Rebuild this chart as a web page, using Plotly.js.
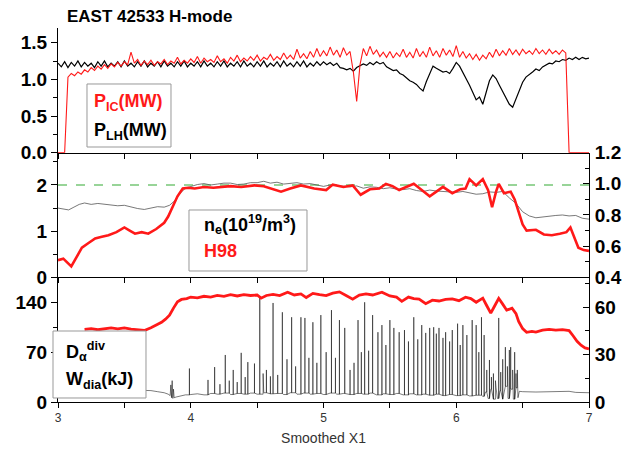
<!DOCTYPE html>
<html><head><meta charset="utf-8">
<script src="https://cdn.plot.ly/plotly-3.0.1.min.js"></script>
<style>html,body{margin:0;padding:0;background:#fff}#chart{width:623px;height:459px}</style>
</head><body><div id="chart"></div>
<script>
// ---------- Top panel: heating power (MW) ----------
const powerX = [
3,3.025,3.05,3.075,3.1,3.125,3.15,3.175,3.2,3.225,3.25,3.275,3.3,3.325,3.35,3.375,3.4,3.425,3.45,3.475,
3.5,3.525,3.55,3.575,3.6,3.625,3.65,3.675,3.7,3.725,3.75,3.775,3.8,3.825,3.85,3.875,3.9,3.925,3.95,3.975,
4,4.025,4.05,4.075,4.1,4.125,4.15,4.175,4.2,4.225,4.25,4.275,4.3,4.325,4.35,4.375,4.4,4.425,4.45,4.475,
4.5,4.525,4.55,4.575,4.6,4.625,4.65,4.675,4.7,4.725,4.75,4.775,4.8,4.825,4.85,4.875,4.9,4.925,4.95,4.975,
5,5.025,5.05,5.075,5.1,5.125,5.15,5.175,5.2,5.225,5.25,5.275,5.3,5.325,5.35,5.375,5.4,5.425,5.45,5.475,
5.5,5.525,5.55,5.575,5.6,5.625,5.65,5.675,5.7,5.725,5.75,5.775,5.8,5.825,5.85,5.875,5.9,5.925,5.95,5.975,
6,6.025,6.05,6.075,6.1,6.125,6.15,6.175,6.2,6.225,6.25,6.275,6.3,6.325,6.35,6.375,6.4,6.425,6.45,6.475,
6.5,6.525,6.55,6.575,6.6,6.625,6.65,6.675,6.7,6.725,6.75,6.775,6.8,6.825,6.85,6.875,6.9,6.925,6.95,6.975,
7];
const pIC = [
0,0,0,1.03,1.08,1.05,1.10,1.07,1.13,1.10,1.16,1.12,1.18,1.14,1.20,1.15,1.21,1.17,1.23,1.18,
1.24,1.20,1.37,1.22,1.27,1.19,1.25,1.20,1.26,1.19,1.24,1.21,1.27,1.20,1.25,1.22,1.30,1.21,1.26,1.22,
1.28,1.23,1.31,1.22,1.29,1.24,1.27,1.23,1.32,1.24,1.28,1.22,1.30,1.25,1.33,1.24,1.29,1.25,1.31,1.26,
1.33,1.25,1.30,1.27,1.34,1.26,1.31,1.27,1.36,1.28,1.33,1.27,1.41,1.29,1.35,1.28,1.38,1.30,1.42,1.31,
1.39,1.32,1.44,1.33,1.40,1.30,1.43,1.33,1.38,1.10,0.70,1.20,1.42,1.32,1.45,1.34,1.40,1.31,1.37,1.30,
1.38,1.29,1.36,1.31,1.41,1.30,1.37,1.29,1.42,1.31,1.38,1.30,1.44,1.32,1.39,1.30,1.42,1.33,1.40,1.31,
1.46,1.30,1.38,1.29,1.35,1.27,1.34,1.26,1.33,1.28,1.37,1.30,1.41,1.32,1.39,1.33,1.42,1.34,1.40,1.33,
1.41,1.35,1.39,1.34,1.42,1.35,1.40,1.34,1.41,1.35,1.39,1.34,1.40,1.36,0,0,0,0,0,0,
0];
const pLH = [
1.22,1.17,1.24,1.16,1.23,1.18,1.25,1.17,1.23,1.18,1.22,1.16,1.24,1.18,1.25,1.17,1.22,1.18,1.24,1.17,
1.25,1.18,1.22,1.17,1.24,1.18,1.25,1.17,1.22,1.18,1.24,1.17,1.25,1.18,1.22,1.17,1.24,1.18,1.25,1.17,
1.22,1.18,1.24,1.17,1.25,1.18,1.22,1.17,1.24,1.18,1.25,1.17,1.22,1.18,1.24,1.17,1.25,1.18,1.22,1.17,
1.24,1.18,1.25,1.17,1.22,1.18,1.24,1.17,1.25,1.18,1.22,1.17,1.24,1.18,1.25,1.17,1.22,1.18,1.24,1.19,
1.24,1.20,1.23,1.19,1.22,1.16,1.15,1.13,1.15,1.11,1.16,1.18,1.21,1.19,1.23,1.20,1.24,1.21,1.23,1.17,
1.15,1.12,1.13,1.08,1.06,1.02,0.98,0.96,0.93,0.88,0.84,0.97,1.08,1.18,1.15,1.12,1.10,1.11,1.08,1.15,
1.23,1.18,1.10,1.02,0.92,0.82,0.72,0.76,0.66,0.82,0.98,1.06,1.01,0.92,0.84,0.74,0.66,0.62,0.74,0.86,
0.96,1.03,1.06,1.10,1.14,1.12,1.17,1.20,1.22,1.21,1.25,1.24,1.27,1.26,1.29,1.27,1.30,1.27,1.30,1.28,
1.29];

// ---------- Middle panel: density (left) and H98 (right) ----------
const neX = [3.0,3.04,3.08,3.12,3.16,3.2,3.25,3.3,3.35,3.4,3.45,3.5,3.55,3.6,3.65,3.7,3.75,3.8,3.84,3.88,3.92,3.96,4.0,4.05,4.1,4.15,4.2,4.25,4.3,4.35,4.4,4.45,4.5,4.55,4.6,4.65,4.7,4.75,4.8,4.85,4.9,4.95,5.0,5.05,5.1,5.15,5.2,5.25,5.3,5.35,5.4,5.45,5.5,5.55,5.6,5.65,5.7,5.75,5.8,5.85,5.9,5.95,6.0,6.05,6.1,6.15,6.2,6.25,6.3,6.35,6.4,6.45,6.5,6.55,6.6,6.65,6.7,6.75,6.8,6.85,6.9,6.95,7.0];
const neY = [1.50,1.48,1.46,1.52,1.58,1.61,1.58,1.60,1.58,1.57,1.55,1.56,1.52,1.49,1.47,1.50,1.53,1.52,1.56,1.66,1.82,1.93,1.97,2.01,2.03,2.00,2.02,2.04,2.04,2.01,2.02,2.05,2.05,2.08,2.04,2.06,2.02,2.04,2.05,2.02,2.03,2.00,1.97,2.00,1.99,1.97,1.96,1.98,1.93,1.96,1.95,1.92,1.94,1.91,1.90,1.92,1.88,1.86,1.89,1.87,1.86,1.85,1.84,1.86,1.83,1.80,1.81,1.85,1.84,1.86,1.72,1.60,1.42,1.33,1.29,1.31,1.33,1.34,1.35,1.33,1.34,1.28,1.26];
const h98X = [3.0,3.04,3.1,3.14,3.18,3.23,3.28,3.33,3.38,3.44,3.5,3.54,3.58,3.63,3.68,3.74,3.8,3.83,3.86,3.9,3.94,3.98,4.03,4.1,4.17,4.23,4.3,4.38,4.48,4.55,4.61,4.68,4.75,4.83,4.93,5.02,5.07,5.15,5.22,5.28,5.35,5.42,5.47,5.52,5.57,5.63,5.68,5.74,5.8,5.85,5.9,5.97,6.03,6.07,6.1,6.15,6.2,6.24,6.27,6.3,6.32,6.36,6.41,6.44,6.47,6.5,6.53,6.6,6.66,6.72,6.78,6.83,6.86,6.89,6.92,6.96,7.0];
const h98Y = [0.51,0.52,0.47,0.53,0.59,0.62,0.65,0.66,0.67,0.69,0.72,0.70,0.68,0.69,0.68,0.71,0.75,0.79,0.85,0.92,0.97,0.975,0.97,0.98,0.975,0.98,0.985,0.98,0.99,0.985,0.97,0.95,0.97,0.99,0.97,0.96,0.995,0.98,0.99,0.93,0.965,0.97,1.0,0.985,0.96,0.98,1.0,0.96,0.92,0.95,0.98,0.94,0.965,0.97,1.03,0.99,1.03,0.96,0.85,0.95,1.0,0.94,0.95,0.90,0.82,0.74,0.70,0.705,0.675,0.67,0.68,0.69,0.72,0.66,0.59,0.575,0.57];
const refX = [3, 7];
const refY = [2, 2];

// ---------- Bottom panel: D-alpha (left) and W_dia (right) ----------
const baseX = [3.0,3.1,3.2,3.3,3.4,3.5,3.6,3.65,3.7,3.75,3.8,3.83,3.845,3.85,3.855,3.86,3.865,3.87,3.875,3.89,3.92,3.96,4.0,4.05,4.1,4.15,4.2,4.25,4.3,4.35,4.4,4.45,4.5,4.55,4.6,4.65,4.7,4.75,4.8,4.85,4.9,4.95,5.0,5.05,5.1,5.15,5.2,5.25,5.3,5.35,5.4,5.45,5.5,5.55,5.6,5.65,5.7,5.75,5.8,5.85,5.9,5.95,6.0,6.05,6.1,6.15,6.2,6.22,6.24,6.26,6.28,6.3,6.31,6.33,6.35,6.37,6.39,6.41,6.43,6.45,6.465,6.475,6.5,6.6,6.7,6.8,6.85,6.9,7.0];
const baseY = [18,17.5,18,17,17.5,17,16.5,16.8,16,14.5,13,11,9,24,6,30,5,18,6,7,8.5,10,10.5,11.5,10,12,11,12.5,10.5,12,11,12.5,11,13,11.5,12,10.5,13,11,12.5,11,12,10.5,12.5,11,12,10.5,12,11,12.5,10,11.5,10.5,12,10,11.5,10,11,9.5,11,9,10.5,9,10,8.5,9.5,8,14,5,18,4,20,5,16,4,22,5,18,4,20,6,15,14.5,14,14.5,14,15,13.5,13];
const elmX = [3.99,4.13,4.18,4.22,4.26,4.29,4.32,4.35,4.38,4.41,4.43,4.48,4.52,4.545,4.57,4.6,4.62,4.655,4.69,4.725,4.76,4.79,4.83,4.86,4.89,4.92,4.95,4.98,5.02,5.06,5.09,5.12,5.16,5.2,5.23,5.26,5.285,5.31,5.34,5.37,5.41,5.44,5.47,5.5,5.53,5.57,5.61,5.64,5.68,5.71,5.74,5.77,5.8,5.83,5.85,5.87,5.9,5.92,5.95,5.97,6.01,6.03,6.05,6.08,6.12,6.15,6.17,6.19,6.21,6.23,6.25,6.265,6.28,6.295,6.32,6.335,6.35,6.37,6.385,6.4,6.41,6.425,6.44,6.45,6.46];
const elmY = [47,31,49,25,66,30,45,28,69,35,56,54,146,40,45,36,139,38,126,60,119,50,119,118,62,112,55,122,70,129,62,115,104,45,55,115,70,140,72,122,98,108,80,115,104,98,101,85,119,88,108,97,104,105,96,104,90,98,85,101,110,80,108,94,115,108,70,119,94,45,59,35,40,30,118,42,60,77,50,73,77,45,70,40,45];
const wX = [3.2,3.25,3.3,3.35,3.4,3.45,3.5,3.55,3.6,3.65,3.7,3.74,3.78,3.81,3.84,3.87,3.9,3.93,3.97,4.0,4.05,4.1,4.15,4.2,4.25,4.3,4.35,4.4,4.45,4.5,4.53,4.57,4.62,4.67,4.73,4.78,4.83,4.87,4.92,4.97,5.02,5.07,5.12,5.17,5.22,5.27,5.32,5.37,5.44,5.5,5.55,5.59,5.64,5.68,5.72,5.77,5.82,5.87,5.92,5.97,6.02,6.07,6.11,6.15,6.2,6.23,6.26,6.29,6.32,6.35,6.38,6.42,6.45,6.47,6.5,6.53,6.57,6.6,6.65,6.7,6.75,6.8,6.85,6.88,6.91,6.94,6.97,7.0];
const wY = [46,46.5,45.8,46.4,47,46.3,47,46.2,45.6,45.3,47,48.5,50.5,52.5,55,59.5,63.5,65,65.5,66.5,66,67,66.5,67.5,67,68,67.2,68,67.5,67.8,65.8,67.5,68.2,67.4,69.5,67.8,68.5,66.2,68.8,68,67.4,69,69.8,67.5,65.2,67.8,68.5,67.8,69.6,67.2,66.5,63.8,66.5,65.5,65.2,62.3,64.5,64,65,65.3,64.2,66.4,65.5,63.2,65.8,61,56.3,61,65.7,62,58.2,59.4,56,51,46.5,44.2,44.8,44.3,45.5,46,45.6,45.8,45.2,42,38.5,36,34.3,33.6];

// build D-alpha trace: baseline samples plus vertical ELM spikes
const dPts = baseX.map((x, i) => ({x: x, y: baseY[i], spike: false}));
elmX.forEach((x, i) => dPts.push({x: x, y: elmY[i], spike: true}));
dPts.sort((a, b) => (a.x - b.x) || (a.spike - b.spike));
const dX = [], dY = [];
let curBase = baseY[0];
dPts.forEach(p => {
  if (p.spike) { dX.push(p.x, p.x, p.x); dY.push(curBase, p.y, curBase); }
  else { curBase = p.y; dX.push(p.x); dY.push(p.y); }
});

const RED = 'rgb(255,25,25)';
const FONT = 'Liberation Sans, Arial, sans-serif';

const traces = [
  {x: powerX, y: pLH, xaxis: 'x3', yaxis: 'y', mode: 'lines', line: {color: '#000', width: 1.2}},
  {x: powerX, y: pIC, xaxis: 'x3', yaxis: 'y', mode: 'lines', line: {color: RED, width: 1.1}},
  {x: refX, y: refY, xaxis: 'x2', yaxis: 'y2', mode: 'lines', line: {color: '#33aa33', width: 1.1, dash: 'dash'}},
  {x: neX, y: neY, xaxis: 'x2', yaxis: 'y2', mode: 'lines', line: {color: '#555', width: 0.8}},
  {x: h98X, y: h98Y, xaxis: 'x2', yaxis: 'y4', mode: 'lines', line: {color: RED, width: 2.6}},
  {x: dX, y: dY, xaxis: 'x', yaxis: 'y3', mode: 'lines', line: {color: 'rgba(0,0,0,0.65)', width: 0.8}},
  {x: wX, y: wY, xaxis: 'x', yaxis: 'y5', mode: 'lines', line: {color: RED, width: 2.8}}
];

const base = {showline: true, linecolor: '#000', linewidth: 1, zeroline: false, showgrid: false, tickcolor: '#000'};
const xCommon = Object.assign({}, base, {range: [3, 7], dtick: 1, tick0: 3, ticks: 'outside', ticklen: 5,
  minor: {dtick: 0.5, tick0: 3, ticks: 'outside', ticklen: 5, tickcolor: '#000'}});
const xTop = Object.assign({}, base, {range: [3, 7], dtick: 1, tick0: 3, ticks: 'inside', ticklen: 5, side: 'top', showticklabels: false});
const yFont = {family: FONT, size: 19, color: '#000', weight: 'bold'};
const yLeft = Object.assign({}, base, {ticks: 'outside', ticklen: 6, tickfont: yFont});
const yRight = Object.assign({}, base, {ticks: 'inside', ticklen: 6, side: 'right', tickfont: yFont, ticklabelstandoff: 1});

const layout = {
  width: 623, height: 459,
  margin: {l: 58, r: 34, t: 28, b: 57},
  paper_bgcolor: '#fff', plot_bgcolor: '#fff', showlegend: false,
  font: {family: FONT},
  xaxis: Object.assign({}, xCommon, {domain: [0, 1], anchor: 'y3',
    tickfont: {family: FONT, size: 12, color: '#333'},
    title: {text: 'Smoothed X1', font: {family: FONT, size: 14, color: '#333'}, standoff: 8}}),
  xaxis2: Object.assign({}, xCommon, {domain: [0, 1], anchor: 'y2', showticklabels: false}),
  xaxis3: Object.assign({}, xCommon, {domain: [0, 1], anchor: 'y', showticklabels: false}),
  xaxis4: Object.assign({}, xTop, {overlaying: 'x3', anchor: 'y'}),
  xaxis5: Object.assign({}, xTop, {overlaying: 'x2', anchor: 'y2'}),
  xaxis6: Object.assign({}, xTop, {overlaying: 'x', anchor: 'y3'}),
  yaxis: Object.assign({}, yLeft, {domain: [2/3, 1], anchor: 'x3', range: [0, 1.7], dtick: 0.5, tickformat: '.1f',
    minor: {dtick: 0.25, ticks: 'outside', ticklen: 4, tickcolor: '#000'}}),
  yaxis2: Object.assign({}, yLeft, {domain: [1/3, 2/3], anchor: 'x2', range: [0, 2.7], dtick: 1,
    minor: {dtick: 0.5, ticks: 'outside', ticklen: 4, tickcolor: '#000'}}),
  yaxis3: Object.assign({}, yLeft, {domain: [0, 1/3], anchor: 'x', range: [0, 175], dtick: 70,
    minor: {dtick: 35, ticks: 'outside', ticklen: 4, tickcolor: '#000'}}),
  yaxis4: Object.assign({}, yRight, {overlaying: 'y2', anchor: 'x2', range: [0.4, 1.2], dtick: 0.2, tick0: 0.4, tickformat: '.1f',
    minor: {dtick: 0.1, ticks: 'inside', ticklen: 4, tickcolor: '#000'}}),
  yaxis5: Object.assign({}, yRight, {overlaying: 'y3', anchor: 'x', range: [0, 79], dtick: 30,
    minor: {dtick: 15, ticks: 'inside', ticklen: 4, tickcolor: '#000'}}),
  yaxis6: Object.assign({}, yRight, {overlaying: 'y', anchor: 'x3', range: [0, 1.7], dtick: 0.5, showticklabels: false,
    minor: {dtick: 0.25, ticks: 'inside', ticklen: 4, tickcolor: '#000'}}),
  shapes: [
    {type: 'rect', xref: 'paper', yref: 'paper', x0: 0.0546, x1: 0.2128, y0: 0.6818, y1: 0.8503, fillcolor: '#fff', line: {color: '#999', width: 1}, layer: 'above'},
    {type: 'rect', xref: 'paper', yref: 'paper', x0: 0.2467, x1: 0.4689, y0: 0.3503, y1: 0.5134, fillcolor: '#fff', line: {color: '#999', width: 1}, layer: 'above'},
    {type: 'rect', xref: 'paper', yref: 'paper', x0: -0.0094, x1: 0.1657, y0: 0.0107, y1: 0.1898, fillcolor: '#fff', line: {color: '#999', width: 1}, layer: 'above'}
  ],
  annotations: [
    {text: '<b>EAST 42533 H-mode</b>', xref: 'paper', yref: 'paper', x: 0.0132, y: 1.032, xanchor: 'left', yanchor: 'middle', showarrow: false, font: {family: FONT, size: 17, color: '#000'}},
    {text: '<b>P<sub>IC</sub>(MW)</b>', xref: 'paper', yref: 'paper', x: 0.064, y: 0.80, xanchor: 'left', yanchor: 'middle', showarrow: false, font: {family: FONT, size: 18, color: RED}},
    {text: '<b>P<sub>LH</sub>(MW)</b>', xref: 'paper', yref: 'paper', x: 0.064, y: 0.722, xanchor: 'left', yanchor: 'middle', showarrow: false, font: {family: FONT, size: 18, color: '#000'}},
    {text: '<b>n<sub>e</sub>(10<sup>19</sup>/m<sup>3</sup>)</b>', xref: 'paper', yref: 'paper', x: 0.271, y: 0.474, xanchor: 'left', yanchor: 'middle', showarrow: false, font: {family: FONT, size: 18, color: '#000'}},
    {text: '<b>H98</b>', xref: 'paper', yref: 'paper', x: 0.271, y: 0.404, xanchor: 'left', yanchor: 'middle', showarrow: false, font: {family: FONT, size: 18, color: RED}},
    {text: '<b>D<sub>α</sub><sup>div</sup></b>', xref: 'paper', yref: 'paper', x: 0.011, y: 0.135, xanchor: 'left', yanchor: 'middle', showarrow: false, font: {family: FONT, size: 18, color: '#000'}},
    {text: '<b>W<sub>dia</sub>(kJ)</b>', xref: 'paper', yref: 'paper', x: 0.011, y: 0.058, xanchor: 'left', yanchor: 'middle', showarrow: false, font: {family: FONT, size: 18, color: '#000'}}
  ]
};

Plotly.newPlot('chart', traces, layout, {displayModeBar: false, staticPlot: true});
</script>
</body></html>
